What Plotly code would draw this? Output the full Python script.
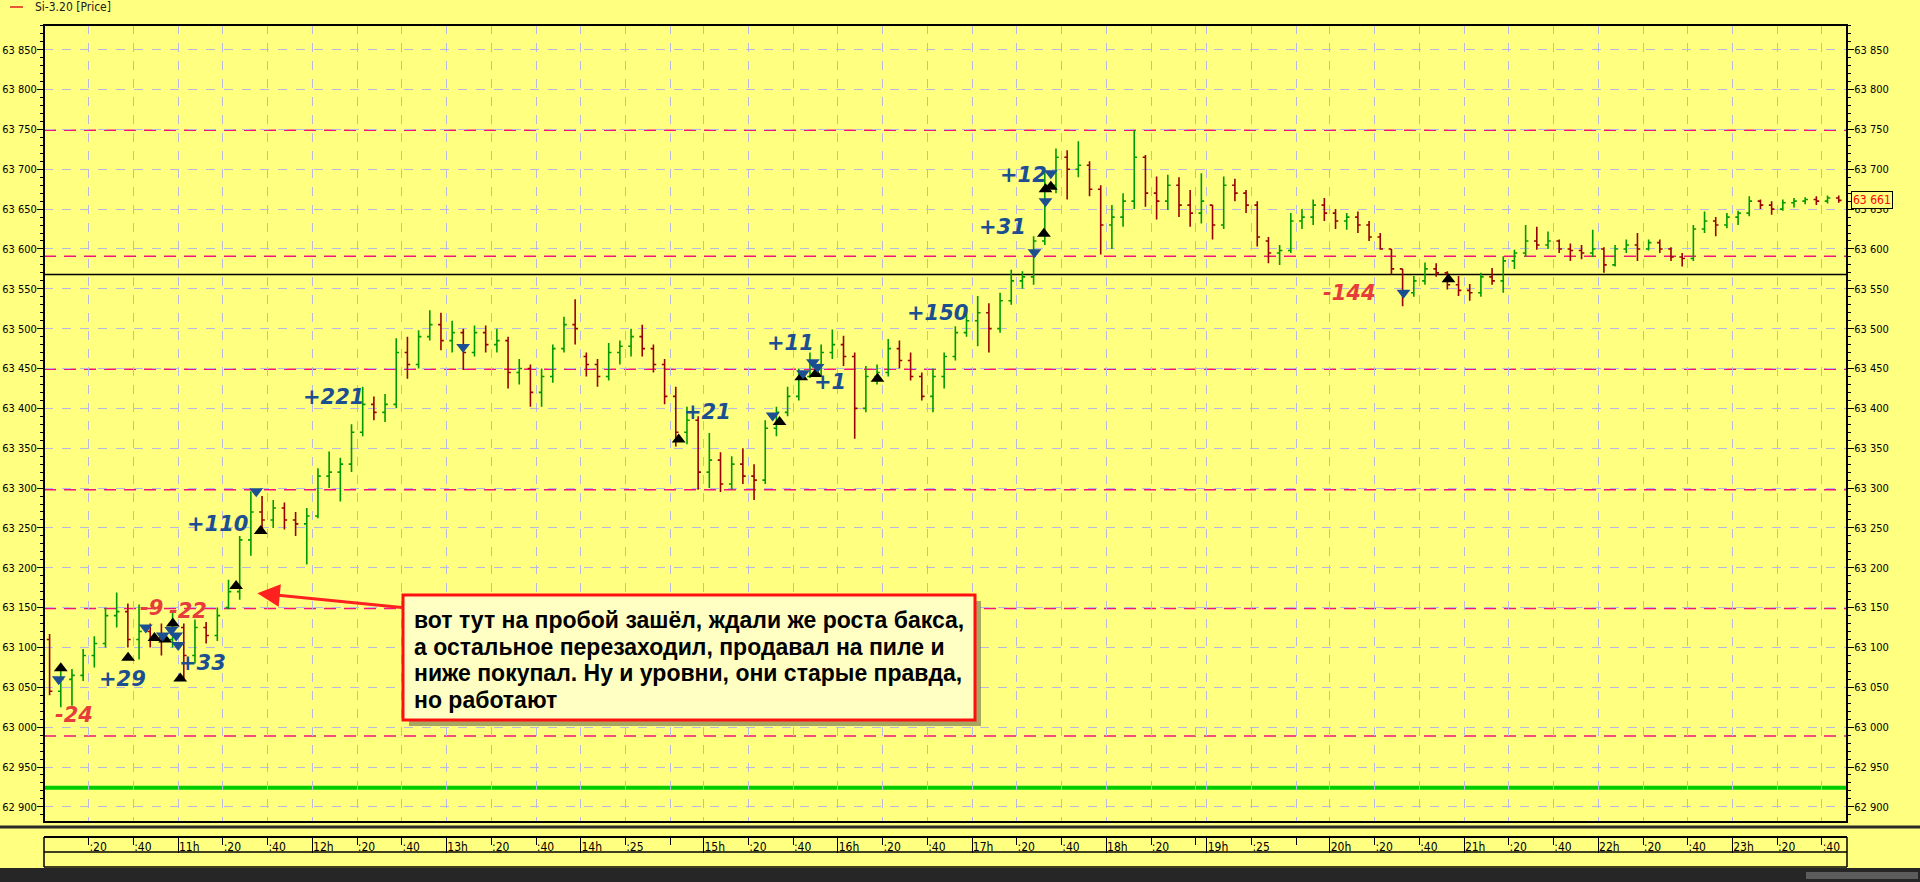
import plotly.graph_objects as go

# ---------------- data (Si-3.20, 5-minute bars on a session-compressed minute axis) ----------------
# sessions: 10:00-14:00, 14:05-18:45, 19:05-23:50  -> 805 minutes, 161 five-minute bars
opens = [63110, 63045, 63060, 63065, 63090, 63105, 63140, 63145, 63110, 63120, 63112, 63110, 63125, 63090, 63125, 63115,
         63150, 63170, 63235, 63270, 63260, 63275, 63260, 63255, 63265, 63315, 63320, 63330, 63370, 63405, 63395, 63405,
         63470, 63455, 63490, 63505, 63485, 63495, 63470, 63495, 63480, 63485, 63445, 63450, 63420, 63440, 63475, 63505,
         63465, 63455, 63440, 63470, 63478, 63490, 63475, 63455, 63415, 63370, 63385, 63320, 63335, 63305, 63330, 63315,
         63310, 63375, 63395, 63415, 63440, 63455, 63470, 63480, 63465, 63400, 63440, 63445, 63475, 63460, 63440, 63415,
         63440, 63465, 63495, 63510, 63520, 63500, 63535, 63560, 63565, 63610, 63680, 63715, 63700, 63705, 63675, 63630,
         63640, 63660, 63715, 63670, 63660, 63680, 63655, 63645, 63655, 63630, 63680, 63670, 63655, 63610, 63595, 63598,
         63635, 63640, 63655, 63645, 63635, 63640, 63630, 63615, 63600, 63575, 63545, 63560, 63575, 63570, 63555, 63548,
         63545, 63565, 63560, 63585, 63595, 63610, 63605, 63610, 63600, 63598, 63595, 63600, 63580, 63600, 63605, 63600,
         63608, 63600, 63590, 63588, 63625, 63635, 63630, 63640, 63645, 63660, 63655, 63650, 63658, 63660, 63662, 63660,
         63664]
highs = [63117, 63075, 63073, 63098, 63114, 63150, 63169, 63155, 63154, 63130, 63130, 63144, 63130, 63135, 63132, 63150,
         63185, 63240, 63296, 63290, 63285, 63282, 63270, 63275, 63325, 63346, 63338, 63380, 63427, 63415, 63418, 63488,
         63490, 63498, 63523, 63520, 63510, 63500, 63504, 63504, 63500, 63490, 63462, 63455, 63450, 63480, 63515, 63537,
         63470, 63462, 63482, 63485, 63500, 63505, 63480, 63462, 63427, 63402, 63390, 63369, 63345, 63340, 63350, 63330,
         63385, 63402, 63427, 63450, 63470, 63480, 63499, 63491, 63470, 63453, 63455, 63487, 63485, 63470, 63445, 63450,
         63470, 63503, 63528, 63541, 63532, 63545, 63574, 63572, 63616, 63697, 63726, 63724, 63735, 63710, 63680, 63655,
         63670, 63749, 63718, 63691, 63693, 63690, 63674, 63695, 63655, 63691, 63688, 63674, 63660, 63615, 63605, 63645,
         63650, 63662, 63664, 63650, 63645, 63647, 63635, 63620, 63600, 63575, 63566, 63583, 63582, 63572, 63566, 63556,
         63570, 63576, 63591, 63599, 63630, 63628, 63622, 63612, 63607, 63605, 63624, 63602, 63605, 63612, 63620, 63612,
         63612, 63602, 63595, 63630, 63647, 63640, 63645, 63648, 63666, 63662, 63660, 63662, 63664, 63665, 63666, 63667,
         63667]
lows = [63040, 63025, 63027, 63058, 63075, 63100, 63125, 63100, 63085, 63100, 63090, 63100, 63060, 63080, 63105, 63108,
        63148, 63160, 63215, 63245, 63250, 63248, 63240, 63204, 63262, 63300, 63283, 63320, 63365, 63385, 63383, 63400,
        63437, 63450, 63485, 63473, 63470, 63448, 63465, 63470, 63470, 63425, 63430, 63402, 63402, 63432, 63470, 63480,
        63440, 63427, 63435, 63455, 63465, 63465, 63445, 63405, 63352, 63355, 63298, 63300, 63295, 63298, 63305, 63285,
        63305, 63365, 63390, 63410, 63438, 63440, 63462, 63453, 63362, 63395, 63430, 63440, 63450, 63435, 63410, 63395,
        63425, 63460, 63490, 63478, 63470, 63495, 63530, 63550, 63555, 63605, 63670, 63662, 63690, 63666, 63593, 63600,
        63628, 63650, 63653, 63637, 63649, 63640, 63628, 63632, 63612, 63625, 63660, 63645, 63603, 63582, 63580, 63595,
        63625, 63630, 63635, 63625, 63624, 63620, 63610, 63599, 63568, 63528, 63540, 63555, 63565, 63549, 63541, 63535,
        63540, 63555, 63545, 63575, 63590, 63599, 63600, 63595, 63585, 63587, 63590, 63570, 63578, 63595, 63585, 63598,
        63595, 63585, 63578, 63585, 63620, 63616, 63626, 63630, 63641, 63650, 63643, 63648, 63652, 63656, 63655, 63657,
        63658]
closes = [63045, 63060, 63065, 63090, 63105, 63140, 63145, 63110, 63120, 63112, 63110, 63125, 63090, 63125, 63115, 63140,
          63170, 63235, 63270, 63260, 63275, 63260, 63255, 63265, 63315, 63320, 63330, 63370, 63405, 63395, 63405, 63470,
          63455, 63490, 63505, 63485, 63495, 63470, 63495, 63480, 63485, 63445, 63450, 63420, 63440, 63475, 63505, 63500,
          63455, 63440, 63470, 63478, 63490, 63475, 63455, 63415, 63370, 63385, 63320, 63335, 63305, 63330, 63315, 63310,
          63375, 63395, 63415, 63440, 63455, 63470, 63480, 63465, 63400, 63440, 63445, 63475, 63460, 63440, 63415, 63440,
          63465, 63495, 63510, 63520, 63500, 63535, 63560, 63565, 63610, 63680, 63715, 63700, 63705, 63675, 63630, 63640,
          63660, 63715, 63670, 63660, 63680, 63655, 63645, 63660, 63630, 63680, 63670, 63655, 63615, 63595, 63598, 63635,
          63640, 63655, 63645, 63635, 63640, 63630, 63615, 63600, 63575, 63545, 63560, 63575, 63570, 63555, 63548, 63545,
          63565, 63560, 63585, 63595, 63610, 63605, 63610, 63600, 63598, 63595, 63600, 63580, 63600, 63605, 63600, 63608,
          63600, 63590, 63588, 63625, 63635, 63630, 63640, 63645, 63660, 63655, 63650, 63658, 63660, 63662, 63660, 63664,
          63661]
BAR_MINUTES = 5

# time axis (minute index of the compressed session axis)
tick_pos = [20, 40, 60, 80, 100, 120, 140, 160, 180, 200, 220, 240, 260, 280, 295, 315, 335, 355, 375, 395, 415,
            435, 455, 475, 495, 515, 520, 540, 560, 575, 595, 615, 635, 655, 675, 695, 715, 735, 755, 775, 795]
tick_text = [":20", ":40", "11h", ":20", ":40", "12h", ":20", ":40", "13h", ":20", ":40", "14h", ":25", "", "15h",
             ":20", ":40", "16h", ":20", ":40", "17h", ":20", ":40", "18h", ":20", "", "19h", ":25", "", "20h",
             ":20", ":40", "21h", ":20", ":40", "22h", ":20", ":40", "23h", ":20", ":40"]
hour_pos = [60, 120, 180, 240, 295, 355, 415, 475, 520, 575, 635, 695, 755]

# levels
pink_levels = [63749, 63591, 63449, 63298, 63149, 62989]
black_level = 63568
green_level = 62924
last_price = 63661

# trade markers (minute index, price)
buy_x = [7.5, 37.6, 49.4, 54.2, 57.6, 60.9, 85.9, 96.9, 283.8, 328.9, 338.6, 345.0, 372.7, 447.1, 447.8, 450.2, 628.0]
buy_y = [63074, 63087, 63112, 63110, 63130, 63061, 63177, 63246, 63361, 63383, 63439, 63443, 63437, 63619, 63675, 63678, 63562]
sell_x = [6.6, 45.5, 53.1, 56.9, 59.1, 60.0, 94.9, 187.4, 325.8, 339.4, 343.8, 345.9, 442.9, 447.8, 450.2, 607.9]
sell_y = [63060, 63125, 63115, 63122, 63115, 63103, 63296, 63477, 63391, 63444, 63458, 63452, 63596, 63660, 63695, 63545]

# trade results
res_text = ["-24", "+29", "-9", "-22", "+33", "+110", "+221", "+21", "+11", "+1", "+150", "+31", "+12", "-144"]
res_x = [13.6, 35.1, 47.9, 64.5, 70.7, 77.4, 129.5, 296.7, 333.7, 351.3, 399.6, 428.8, 438.0, 583.7]
res_y = [63015, 63061, 63150, 63146, 63080, 63255, 63414, 63395, 63482, 63433, 63520, 63628, 63693, 63545]

note_lines = ["вот тут на пробой зашёл, ждали же роста бакса,",
              "а остальное перезаходил, продавал на пиле и",
              "ниже покупал. Ну и уровни, они старые правда,",
              "но работают"]
legend_text = "Si-3.20 [Price]"

# ---------------- styling / geometry ----------------
W, H = 1920, 882
PL, PR, PT, PB = 44, 1847, 25, 837      # paper area in pixels
CHART_BOTTOM = 822                       # bottom of price pane in pixels
X_RANGE = [0, 806.2]
Y_RANGE = [62881, 63881]
YELLOW = "#ffff80"
GRID = "#b9b9dd"
PINK = "#f0147a"
BLUE = "#1c4f92"
RED_TXT = "#e63c3c"
AXFONT = "Liberation Sans Narrow, DejaVu Sans Condensed, Arial Narrow, sans-serif"


def px(x):
    return (x - PL) / (PR - PL)


def py(y):
    return (PB - y) / (PB - PT)


ydom0 = py(CHART_BOTTOM)
bar_x = [BAR_MINUTES * k + BAR_MINUTES / 2 for k in range(len(closes))]

fig = go.Figure()
fig.add_trace(go.Ohlc(x=bar_x, open=opens, high=highs, low=lows, close=closes,
                      increasing=dict(line=dict(color="#009a00", width=1.6)),
                      decreasing=dict(line=dict(color="#990000", width=1.6)),
                      tickwidth=0.25, showlegend=False, hoverinfo="skip"))
fig.add_trace(go.Scatter(x=buy_x, y=buy_y, mode="markers", showlegend=False, hoverinfo="skip",
                         marker=dict(symbol="triangle-up", size=12, color="black")))
fig.add_trace(go.Scatter(x=sell_x, y=sell_y, mode="markers", showlegend=False, hoverinfo="skip",
                         marker=dict(symbol="triangle-down", size=12, color=BLUE)))
# helper traces so the overlaying axes are drawn
fig.add_trace(go.Scatter(x=[None], y=[None], yaxis="y2", showlegend=False, hoverinfo="skip"))
fig.add_trace(go.Scatter(x=[None], y=[None], xaxis="x2", showlegend=False, hoverinfo="skip"))
fig.add_trace(go.Scatter(x=[None], y=[None], xaxis="x3", showlegend=False, hoverinfo="skip"))

yaxis_common = dict(range=Y_RANGE, domain=[ydom0, 1], tickmode="linear", tick0=0, dtick=50,
                    tickformat=",d", ticks="outside", ticklen=6, tickcolor="black", automargin=False,
                    ticklabelstandoff=-2,
                    minor=dict(ticks="outside", ticklen=3, dtick=10, tick0=0, tickcolor="black", showgrid=False),
                    showline=True, linecolor="black", linewidth=1, zeroline=False,
                    tickfont=dict(family=AXFONT, size=11, color="black"))

fig.update_layout(
    width=W, height=H,
    margin=dict(l=PL, r=W - PR, t=PT, b=H - PB, pad=0, autoexpand=False),
    paper_bgcolor=YELLOW, plot_bgcolor=YELLOW,
    separators=". ",
    showlegend=False,
    xaxis=dict(range=X_RANGE, domain=[0, 1], anchor="free", position=0, automargin=False,
               tickmode="array", tickvals=tick_pos, ticktext=tick_text, ticks="",
               ticklabelposition="outside right", ticklabelstandoff=-1,
               showgrid=True, gridcolor=GRID, griddash="dash", gridwidth=1,
               showline=True, linecolor="black", linewidth=1.5, zeroline=False,
               rangeslider=dict(visible=False),
               tickfont=dict(family=AXFONT, size=12, color="black")),
    xaxis2=dict(range=X_RANGE, overlaying="x", anchor="free", position=0, tickmode="array", automargin=False,
                tickvals=tick_pos, ticks="outside", ticklen=7, tickcolor="black", showticklabels=False,
                showgrid=False, showline=False, zeroline=False),
    xaxis3=dict(range=X_RANGE, overlaying="x", anchor="free", position=0, tickmode="array", automargin=False,
                tickvals=hour_pos, ticks="outside", ticklen=15, tickcolor="black", showticklabels=False,
                showgrid=False, showline=False, zeroline=False),
    yaxis=dict(side="left", showgrid=True, gridcolor=GRID, griddash="dash", gridwidth=1, **yaxis_common),
    yaxis2=dict(side="right", overlaying="y", anchor="x", showgrid=False, **yaxis_common),
)

shapes = []
for lv in pink_levels:
    shapes.append(dict(type="line", xref="paper", yref="y", x0=0, x1=1, y0=lv, y1=lv, layer="between",
                       line=dict(color=PINK, width=1.5, dash="12px,8px")))
shapes.append(dict(type="line", xref="paper", yref="y", x0=0, x1=1, y0=black_level, y1=black_level,
                   layer="between", line=dict(color="black", width=1.5)))
shapes.append(dict(type="line", xref="paper", yref="y", x0=0, x1=1, y0=green_level, y1=green_level,
                   layer="between", line=dict(color="#00cc00", width=4)))
# plot frame
shapes.append(dict(type="rect", xref="paper", yref="paper", x0=0, x1=1, y0=ydom0, y1=1,
                   line=dict(color="black", width=2), layer="above"))
# separator between price pane and time strip
shapes.append(dict(type="line", xref="paper", yref="paper", x0=px(0), x1=px(W), y0=py(827), y1=py(827),
                   line=dict(color="#2a2a2a", width=3)))
# time strip box
for yy in (852, 867):
    shapes.append(dict(type="line", xref="paper", yref="paper", x0=0, x1=1, y0=py(yy), y1=py(yy),
                       line=dict(color="black", width=1.5)))
for xx in (0, 1):
    shapes.append(dict(type="line", xref="paper", yref="paper", x0=xx, x1=xx, y0=py(837), y1=py(867),
                       line=dict(color="black", width=1.5)))
# window bottom bar and scroll thumb
shapes.append(dict(type="rect", xref="paper", yref="paper", x0=px(0), x1=px(W), y0=py(H + 2), y1=py(868),
                   fillcolor="#262626", line=dict(width=0)))
shapes.append(dict(type="rect", xref="paper", yref="paper", x0=px(1806), x1=px(1918), y0=py(879), y1=py(872),
                   fillcolor="#5c5c5c", line=dict(width=0)))
# legend line
shapes.append(dict(type="line", xref="paper", yref="paper", x0=px(10), x1=px(23), y0=py(7), y1=py(7),
                   line=dict(color="#e02020", width=1.5)))
# note box with shadow
shapes.append(dict(type="rect", xref="paper", yref="paper", x0=px(409), x1=px(981), y0=py(726), y1=py(601),
                   fillcolor="rgba(60,60,60,0.45)", line=dict(width=0), layer="above"))
shapes.append(dict(type="rect", xref="paper", yref="paper", x0=px(403), x1=px(975), y0=py(720), y1=py(595),
                   fillcolor="#ffffc4", line=dict(color="#ff1010", width=3), layer="above"))
fig.update_layout(shapes=shapes)

ann = []
for t, x, y in zip(res_text, res_x, res_y):
    ann.append(dict(x=x, y=y, xref="x", yref="y", text=t, showarrow=False,
                    font=dict(family="DejaVu Sans", size=21, weight="bold", style="italic",
                              color=RED_TXT if t.startswith("-") else BLUE)))
# arrow
ann.append(dict(x=95.4, y=63168, xref="x", yref="y", ax=160.7, ay=63150, axref="x", ayref="y", text="",
                showarrow=True, arrowhead=2, arrowsize=1.5, arrowwidth=3, arrowcolor="#ff2020"))
# note lines
for i, line in enumerate(note_lines):
    ann.append(dict(x=px(412), y=py(620 + 26.5 * i), xref="paper", yref="paper", xanchor="left",
                    yanchor="middle", text=line, showarrow=False, align="left",
                    font=dict(family="Liberation Sans, Arial, sans-serif", size=23, weight="bold", color="black")))
# legend text
ann.append(dict(x=px(33), y=py(7), xref="paper", yref="paper", xanchor="left", yanchor="middle",
                text=legend_text, showarrow=False, font=dict(family=AXFONT, size=12, color="#202020")))
# last price tag
ann.append(dict(x=1, y=last_price, xref="paper", yref="y", xanchor="left", yanchor="middle", xshift=4,
                text=f"{last_price // 1000} {last_price % 1000:03d}", showarrow=False,
                font=dict(family=AXFONT, size=12, color="#ff0000"), bgcolor=YELLOW,
                bordercolor="black", borderwidth=1, borderpad=1))
fig.update_layout(annotations=ann)

fig.write_html("out.html", config={"displayModeBar": False},
               post_script="document.body.style.margin='0px';")
